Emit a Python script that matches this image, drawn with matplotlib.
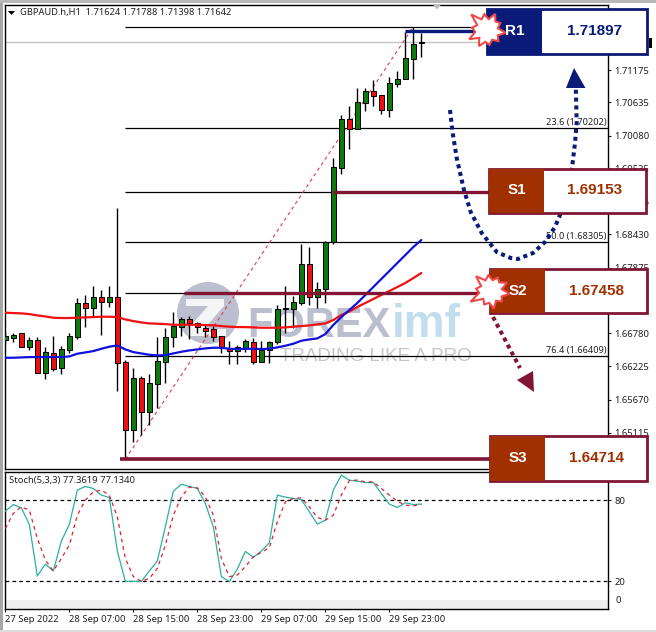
import numpy as np
import matplotlib
matplotlib.use("Agg")
import matplotlib.pyplot as plt
from matplotlib.patches import Rectangle, Polygon, Circle
from matplotlib.ticker import FixedLocator, FixedFormatter

W, H = 656, 632
FONT = "Noto Sans"
BOLD = "Liberation Sans"

opens = [1.66659,1.66704,1.66776,1.66554,1.66665,1.66119,1.66442,1.66203,1.66498,1.66715,1.67278,1.67205,1.67378,1.67306,
         1.67378,1.66297,1.65161,1.66030,1.65467,1.65935,1.66303,1.66710,1.66888,1.67010,1.66955,1.66866,1.66843,1.66726,
         1.66526,1.66476,1.66526,1.66626,1.66303,1.66498,1.66637,1.67177,1.67188,1.67289,1.67935,1.67389,1.67512,1.68303,
         1.69538,1.70356,1.70188,1.70628,1.70823,1.70751,1.70506,1.70940,1.71029,1.71364,1.71624]
highs = [1.66804,1.66788,1.66788,1.66721,1.66721,1.66542,1.66732,1.66565,1.66776,1.67372,1.67417,1.67567,1.67500,1.67567,
         1.68870,1.66331,1.66192,1.66063,1.66091,1.66721,1.66860,1.67127,1.67055,1.67066,1.66960,1.66916,1.66899,1.66737,
         1.66648,1.66581,1.66682,1.66693,1.66648,1.66648,1.67250,1.67567,1.67400,1.68269,1.68213,1.67629,1.68319,1.69705,
         1.70423,1.70573,1.70868,1.70868,1.71007,1.70757,1.71052,1.71158,1.71815,1.71898,1.71788]
lows = [1.66598,1.66637,1.66542,1.66498,1.66119,1.66013,1.66153,1.66097,1.66442,1.66676,1.66877,1.67044,1.66749,1.67222,
        1.65813,1.64677,1.64966,1.65078,1.65245,1.65523,1.65941,1.66554,1.66732,1.66676,1.66788,1.66710,1.66648,1.66453,
        1.66258,1.66264,1.66470,1.66258,1.66303,1.66286,1.66598,1.66788,1.66860,1.67250,1.67250,1.67205,1.67289,1.68269,
        1.69438,1.69854,1.70188,1.70489,1.70573,1.70439,1.70383,1.70896,1.71024,1.71024,1.71398]
closes = [1.66726,1.66743,1.66554,1.66665,1.66119,1.66459,1.66186,1.66515,1.66732,1.67278,1.67205,1.67378,1.67306,1.67378,
          1.66286,1.65161,1.66024,1.65467,1.65941,1.66314,1.66710,1.66899,1.67010,1.66955,1.66877,1.66821,1.66721,1.66526,
          1.66476,1.66542,1.66643,1.66303,1.66498,1.66637,1.67183,1.67194,1.67294,1.67935,1.67389,1.67512,1.68308,1.69555,
          1.70357,1.70188,1.70640,1.70818,1.70740,1.70506,1.70951,1.71018,1.71369,1.71609,1.71642]
ma_blue = [1.66370,1.66370,1.66375,1.66381,1.66381,1.66381,1.66381,1.66381,1.66392,1.66437,1.66459,1.66481,1.66520,1.66554,
           1.66576,1.66509,1.66464,1.66442,1.66420,1.66409,1.66414,1.66442,1.66470,1.66492,1.66509,1.66526,1.66537,1.66537,
           1.66520,1.66515,1.66520,1.66520,1.66515,1.66520,1.66543,1.66570,1.66604,1.66654,1.66676,1.66693,1.66765,1.66917,
           1.67050,1.67167,1.67284,1.67418,1.67551,1.67685,1.67818,1.67952,1.68085,1.68219,1.68336]
ma_red = [1.67122,1.67116,1.67111,1.67099,1.67077,1.67060,1.67038,1.67033,1.67033,1.67038,1.67044,1.67049,1.67055,1.67055,
          1.67049,1.67010,1.66982,1.66960,1.66943,1.66938,1.66932,1.66921,1.66921,1.66921,1.66921,1.66916,1.66910,1.66899,
          1.66888,1.66882,1.66882,1.66877,1.66871,1.66871,1.66871,1.66877,1.66888,1.66899,1.66910,1.66927,1.66943,1.67000,
          1.67084,1.67142,1.67217,1.67284,1.67351,1.67418,1.67484,1.67551,1.67618,1.67701,1.67785]
stoch_main = [72.1,77.0,74.6,62.2,24.0,32.8,27.7,49.9,62.2,87.7,90.4,88.9,84.0,82.2,42.5,20,20,20,27.7,35.1,60.5,86.9,92.1,
              90.4,88.9,77.8,60.5,23.5,19.8,29.1,42.2,37.8,42.5,48.6,84.0,82.5,81.5,80.7,71.6,62.5,65.4,87.7,98.8,95.1,94.3,
              93.3,93.3,85.2,77.3,74.8,78.3,77.0,77.36]
stoch_signal = [59.3,70.4,75.3,72.8,51.9,35.8,27.7,37.0,46.9,69.1,80.2,86.4,87.7,84.0,67.9,37.0,23.5,20,22.2,29.6,46.9,69.1,
                82.7,89.9,89.4,82.7,69.1,37.0,23.5,24.7,30.9,38.3,41.5,44.9,64.2,79.0,81.5,82.0,75.3,67.4,65.4,69.1,84.0,
                94.8,95.1,93.8,93.8,88.9,84.0,79.5,76.5,76.0,77.13]
fib_levels = [1.71885,1.70202,1.69140,1.68305,1.67451,1.66400,1.64680]
fib_labels = {1.70202: "23.6 (1.70202)", 1.68305: "50.0 (1.68305)", 1.66400: "76.4 (1.66409)"}
price_ticks = [1.71175,1.70635,1.70080,1.69535,1.68985,1.68430,1.67875,1.67330,1.66780,1.66225,1.65670,1.65115]
date_ticks = [0,8,16,24,32,40,48]
date_labels = ["27 Sep 2022","28 Sep 07:00","28 Sep 15:00","28 Sep 23:00","29 Sep 07:00","29 Sep 15:00","29 Sep 23:00"]
levels = [("R1","1.71897"),("S1","1.69153"),("S2","1.67458"),("S3","1.64714")]

x = np.arange(len(opens))
o, h, l, c = map(np.array, (opens, highs, lows, closes))

fig = plt.figure(figsize=(W/100, H/100), dpi=100, facecolor="white")

def box(x0, y0, x1, y1):
    return [x0/W, 1-y1/H, (x1-x0)/W, (y1-y0)/H]

def px_axes(z):
    a = fig.add_axes([0,0,1,1], zorder=z)
    a.set_xlim(0,W); a.set_ylim(H,0); a.axis("off"); a.patch.set_alpha(0)
    return a

# watermark layer, beneath the chart
bg = px_axes(0)
bg.add_patch(Circle((208,313), 31, color="#bcbfce", lw=0))
bg.add_patch(Polygon([(186,299),(224,299),(224,306),(204,329),(226,329),(226,336),(188,336),(188,329),(208,306),(186,306)],
                     closed=True, color="white", lw=0, alpha=.85))
bg.text(247,337,"FOREX",family=BOLD,weight="bold",fontsize=30,color="#bbbecd",va="baseline",ha="left")
bg.text(392,337,"imf",family=BOLD,fontsize=33,weight="bold",color="#c2deee",va="baseline",ha="left")
bg.text(280,361,"TRADING LIKE A PRO",family=BOLD,fontsize=13.5,color="#c4c4cc",va="baseline",ha="left")

XL = ((4.5-5.33)/8, (608-5.33)/8)
ax = fig.add_axes(box(4.5,4.5,608,469), zorder=1)
ax.patch.set_alpha(0)
ax.set_xlim(*XL)
ax.set_ylim(1.64512, 1.72269)

ax.axhline(closes[-1], color="#c4c4c4", lw=1, zorder=1)
ax.hlines(fib_levels, 14.9, XL[1], color="black", lw=0.9, zorder=1.5)
for lev, txt in fib_labels.items():
    ax.annotate(txt, xy=(0.998, lev), xycoords=ax.get_yaxis_transform(), xytext=(0,0.6),
                textcoords="offset points", ha="right", va="bottom", fontsize=6.6, family=FONT, color="#202020")
ax.plot([15,51],[lows[15],highs[51]],color="#e03a50",lw=0.8,ls=(0,(3,3)),zorder=1.6)

ax.vlines(x,l,h,color="black",lw=1,zorder=2)
doji = np.abs(c-o) < 0.0003
cols = np.where(doji,"black",np.where(c>=o,"#0c7a0c","#ee1010"))
ax.bar(x,np.abs(c-o),bottom=np.minimum(o,c),width=0.56,color=cols,edgecolor="black",lw=0.7,zorder=3)
ax.plot(x,ma_red,color="#f01010",lw=1.6,zorder=4,solid_capstyle="round")
ax.plot(x,ma_blue,color="#1010dd",lw=1.6,zorder=4.5,solid_capstyle="round")

ax.yaxis.tick_right()
ax.yaxis.set_major_locator(FixedLocator(price_ticks))
ax.yaxis.set_major_formatter(FixedFormatter([f"{t:.5f}" for t in price_ticks]))
ax.tick_params(axis="y",length=2.5,width=0.8,pad=2,labelsize=6.8,labelfontfamily=FONT,colors="#202020")
ax.set_xticks([])
for s in ax.spines.values():
    s.set_linewidth(1); s.set_color("black")

# stochastic pane
ax2 = fig.add_axes(box(4.5,471.5,608,609), zorder=1)
ax2.set_xlim(*XL)
ax2.set_ylim(-0.5,101.5)
ax2.axhspan(-0.5,6,color="#efefef",lw=0,zorder=0)
ax2.axhline(80,color="black",lw=0.9,ls=(0,(3,2.5)),zorder=1)
ax2.axhline(20,color="black",lw=0.9,ls=(0,(3,2.5)),zorder=1)
ax2.plot(x,stoch_main,color="#2ab0a6",lw=0.9,zorder=3)
ax2.plot(x,stoch_signal,color="#e02030",lw=0.9,ls=(0,(3,3)),zorder=3)
ax2.yaxis.tick_right()
ax2.set_yticks([80,20])
ax2.set_yticklabels(["80","20"])
ax2.tick_params(axis="y",length=2.5,width=0.8,pad=2,labelsize=6.8,labelfontfamily=FONT,colors="#202020")
ax2.set_xticks(date_ticks)
ax2.set_xticklabels(date_labels,ha="left")
ax2.tick_params(axis="x",length=2.5,width=0.8,pad=1.5,labelsize=6.8,labelfontfamily=FONT,colors="#202020")
ax2.text(1.012,6.0,"0",transform=ax2.get_yaxis_transform(),fontsize=6.8,family=FONT,va="center",color="#202020")
ax2.text(1.012,96,"100",transform=ax2.get_yaxis_transform(),fontsize=6.8,family=FONT,va="center",color="#202020")
for s in ax2.spines.values():
    s.set_linewidth(1); s.set_color("black")

# annotations layer
ov = px_axes(5)
ov.text(20,12.5,"GBPAUD.h,H1  1.71624 1.71788 1.71398 1.71642",fontsize=6.7,family=FONT,va="center",color="#202020")
ov.text(9,480.5,"Stoch(5,3,3) 77.3619 77.1340",fontsize=6.8,family=FONT,va="center",color="#202020")
ov.add_patch(Polygon([(8,11),(15,11),(11.5,15)],closed=True,color="black",lw=0))
ov.add_patch(Polygon([(433,4.5),(441,4.5),(437,9.5)],closed=True,color="#bdbdbd",lw=0))

NAVY, WINE, RUST = "#0a1a78", "#801633", "#a03000"
ov.plot([405,487],[31,31],color=NAVY,lw=2.4,zorder=2,solid_capstyle="butt")
ov.plot([333,490],[192,192],color=WINE,lw=2.4,zorder=2,solid_capstyle="butt")
ov.plot([184,480],[292.5,292.5],color=WINE,lw=2.4,zorder=2,solid_capstyle="butt")
ov.plot([120,490],[459,459],color=WINE,lw=2.6,zorder=2,solid_capstyle="butt")

curve_x = [450,452.7,456.7,464,470.7,481.7,496.7,510.7,518,533,545,555,560,566,572,575,576.7,576,575.7]
curve_y = [110,133,158,190,212,233,252,258,259,253,242,227,215,192,168,143,123,95,86]
ov.plot(curve_x,curve_y,color=NAVY,lw=2.9,ls=(0,(1,0.95)),zorder=3)
ov.add_patch(Polygon([(574,68),(566,88),(585.5,88)],closed=True,color=NAVY,lw=0,zorder=3))
ov.plot([493,520],[317,368],color=WINE,lw=2.9,ls=(0,(1,0.95)),zorder=3)
ov.add_patch(Polygon([(534,392),(517,380),(533,371)],closed=True,color=WINE,lw=0,zorder=3))

boxes = [(486.7,8.5,646.7,54,542,NAVY,NAVY,NAVY),
         (489,169,646,213,544,RUST,WINE,RUST),
         (490,269,647,313.3,545,RUST,WINE,RUST),
         (490,436,647,480.7,545,RUST,WINE,RUST)]
for (x0,y0,x1,y1,xd,fill,edge,vcol), (name,val) in zip(boxes,levels):
    ov.add_patch(Rectangle((x0,y0),x1-x0,y1-y0,facecolor="white",edgecolor=edge,lw=2,zorder=4))
    ov.add_patch(Rectangle((x0,y0),xd-x0,y1-y0,facecolor=fill,edgecolor="none",zorder=4.1))
    ov.text((x0+xd)/2,(y0+y1)/2-0.5,name,color="white",family=BOLD,weight="bold",fontsize=11,ha="center",va="center",zorder=8)
    ov.text((xd+x1)/2,(y0+y1)/2-0.5,val,color=vcol,family=BOLD,weight="bold",fontsize=11,ha="center",va="center",zorder=8)
ov.add_patch(Rectangle((649,38),3,10,facecolor="black",edgecolor="none",zorder=5))

def burst(cx,cy,radii):
    n = len(radii)
    ang = np.linspace(0,2*np.pi,n,endpoint=False)+0.15
    pts = np.c_[cx+np.array(radii)*np.cos(ang), cy+np.array(radii)*np.sin(ang)]
    ov.add_patch(Polygon(pts,closed=True,facecolor="white",edgecolor="#f04848",lw=1.5,zorder=6))
burst(487,30,[19,12,16,11,15,12,18,11,20,12,15,11,22,12,16,11,18,12,15,11])
burst(491,291,[19,12,15,11,18,12,15,11,23,12,15,11,21,12,16,11,15,12,18,11])

# window chrome
ov.add_patch(Rectangle((0,0),2.5,H,facecolor="#a6a6a6",edgecolor="none",zorder=7))
ov.add_patch(Rectangle((0,0),W,2.5,facecolor="#b8b8b8",edgecolor="none",zorder=7))
ov.add_patch(Rectangle((0,H-2),W,2,facecolor="#dcdcdc",edgecolor="none",zorder=7))

fig.savefig("out.png",dpi=100)
